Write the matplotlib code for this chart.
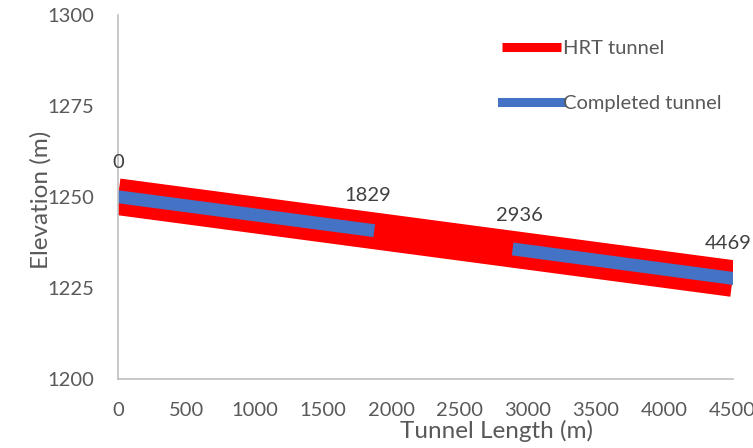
import matplotlib
matplotlib.use('Agg')
import matplotlib.pyplot as plt

# chainage (m) and elevation (m)
hrt_x = [0, 4500]
hrt_y = [1250.0, 1227.5]

done_x1 = [0, 1829]
done_y1 = [1250.0, 1240.9]
done_x2 = [2936, 4469]
done_y2 = [1235.4, 1227.7]

point_x = [0, 1829, 2936, 4469]
point_y = [1250.0, 1240.9, 1235.4, 1227.7]
point_labels = ['0', '1829', '2936', '4469']

x_ticks = [0, 500, 1000, 1500, 2000, 2500, 3000, 3500, 4000, 4500]
y_ticks = [1200, 1225, 1250, 1275, 1300]

RED = '#FF0000'
BLUE = '#4472C4'
GREY_TXT = '#595959'
DARK_TXT = '#404040'
AXIS = '#BFBFBF'

plt.rcParams['font.family'] = ['Lato', 'DejaVu Sans']

W, H = 753, 448
fig = plt.figure(figsize=(W / 100, H / 100), dpi=100)
ax = fig.add_axes([118 / W, 1 - 378.5 / H, (732.7 - 118) / W, (378.5 - 15) / H])

ax.plot(hrt_x, hrt_y, color=RED, lw=26.4, solid_capstyle='butt', label='HRT tunnel')
ax.plot(done_x1, done_y1, color=BLUE, lw=9.3, solid_capstyle='projecting',
        label='Completed tunnel')
ax.plot(done_x2, done_y2, color=BLUE, lw=9.3, solid_capstyle='projecting')

for x, y, t in zip(point_x, point_y, point_labels):
    ax.annotate(t, (x, y), xytext=(0, 25), textcoords='offset points',
                ha='center', va='center', fontsize=14.5, color=DARK_TXT,
                annotation_clip=False)

ax.set_xlim(0, 4500)
ax.set_ylim(1200, 1300)
ax.set_xticks(x_ticks)
ax.set_yticks(y_ticks)
ax.tick_params(length=0, labelsize=14.5, colors=GREY_TXT)
ax.tick_params(axis='y', pad=17)
ax.tick_params(axis='x', pad=17)

for side in ['top', 'right']:
    ax.spines[side].set_visible(False)
for side in ['left', 'bottom']:
    ax.spines[side].set_color(AXIS)
    ax.spines[side].set_linewidth(1.2)

ax.set_xlabel('Tunnel Length (m)', fontsize=17.5, color=GREY_TXT)
ax.set_ylabel('Elevation (m)', fontsize=17.5, color=GREY_TXT)
ax.xaxis.set_label_coords((497 - 118) / (732.7 - 118), -(420 - 378.5) / (378.5 - 15))
ax.yaxis.set_label_coords(-(118 - 52) / (732.7 - 118), (378.5 - 200) / (378.5 - 15))

leg = ax.legend(loc='upper left', bbox_to_anchor=((502 - 118) / (732.7 - 118), 1 - (40 - 15) / (378.5 - 15)),
                frameon=False, fontsize=14.5, handlelength=2.95, handletextpad=0.1,
                labelspacing=1.9, borderpad=0, borderaxespad=0)
for h in leg.get_lines():
    h.set_linewidth(6.5)
for t in leg.get_texts():
    t.set_color(GREY_TXT)

fig.savefig('out.png', dpi=100)
